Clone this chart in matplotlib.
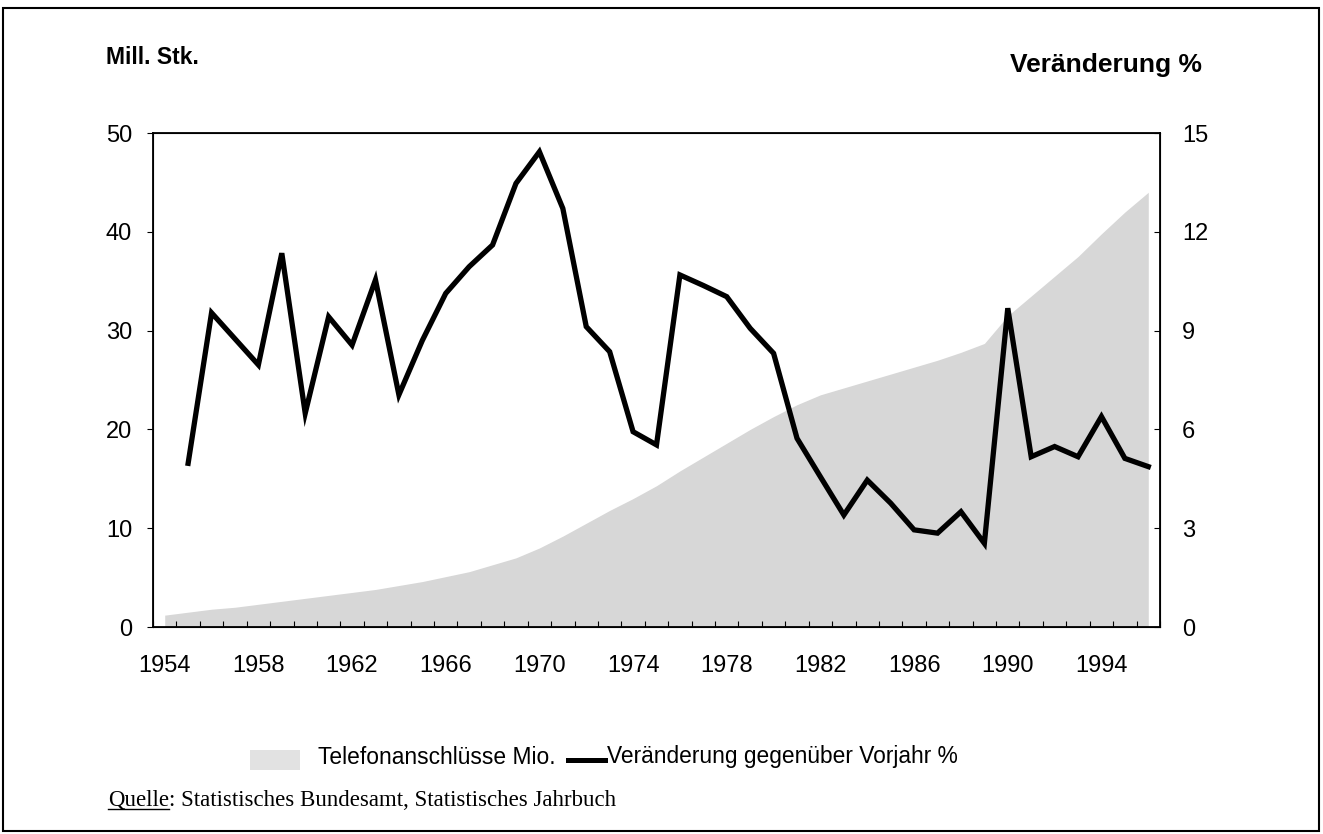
"""
Telefonanschluesse und Veraenderung gegenueber Vorjahr, 1954-1996
"""
# ###
# 1.Import packages
# ###
import matplotlib
matplotlib.use('Agg')
import matplotlib.pyplot as plt
import numpy             as np
from matplotlib.lines   import Line2D
from matplotlib.patches import Rectangle

# ###
# 2.Data
# ###
years = list(range(1954, 1997))

# Telefonanschluesse, Mio. (left axis)
anschluesse = [1.2, 1.5, 1.8, 2.0, 2.3, 2.6, 2.9, 3.2, 3.5, 3.8,
               4.2, 4.6, 5.1, 5.6, 6.3, 7.0, 8.0, 9.2, 10.5, 11.8,
               13.0, 14.3, 15.8, 17.2, 18.6, 20.0, 21.3, 22.5, 23.5, 24.2,
               24.9, 25.6, 26.3, 27.0, 27.8, 28.7, 31.5, 33.5, 35.5, 37.5,
               39.8, 42.0, 44.0]

# Veraenderung gegenueber Vorjahr in % (right axis), starts 1955
change_years = list(range(1955, 1997))
veraenderung = [4.97, 9.54, 8.75, 7.96, 11.35, 6.49, 9.42, 8.56, 10.54, 7.05,
                8.70, 10.13, 10.94, 11.60, 13.47, 14.43, 12.71, 9.12, 8.36, 5.93,
                5.53, 10.69, 10.37, 10.03, 9.07, 8.31, 5.73, 4.56, 3.40, 4.46,
                3.76, 2.95, 2.85, 3.50, 2.54, 9.68, 5.17, 5.48, 5.17, 6.39,
                5.12, 4.87]

year_labels = [1954, 1958, 1962, 1966, 1970, 1974, 1978, 1982, 1986, 1990, 1994]
left_ticks  = [0, 10, 20, 30, 40, 50]
right_ticks = [0, 3, 6, 9, 12, 15]

# ###
# 3.Const variables
# ###
FIG_W, FIG_H = 1323, 834
PLOT_DPI     = 100
FONT_SANS    = 'Liberation Sans'
FONT_SERIF   = 'Liberation Serif'
COLOR_AREA   = '#d7d7d7'
COLOR_LINE   = 'k'
TICK_SIZE    = 17
LEGEND_SIZE  = 16.4


def px(x, y):
    # pixel position -> figure fraction
    return x / FIG_W, 1 - y / FIG_H


# ###
# 4.Draw
# ###
plt.rcParams['font.family'] = [FONT_SANS, 'DejaVu Sans']
fig = plt.figure(figsize=(FIG_W / PLOT_DPI, FIG_H / PLOT_DPI), dpi=PLOT_DPI, facecolor='w')

# outer frame
fig.patches.append(Rectangle(px(3, 831), (1319 - 3) / FIG_W, (831 - 8) / FIG_H,
                             transform=fig.transFigure, fill=False, edgecolor='k', linewidth=1.5))

ax_l, ax_b = px(153, 627)
ax_r, ax_t = px(1160, 133)
ax_main = fig.add_axes([ax_l, ax_b, ax_r - ax_l, ax_t - ax_b])
ax_main.fill_between(years, anschluesse, 0, color=COLOR_AREA, linewidth=0)
ax_main.set_xlim(1953.5, 1996.5)
ax_main.set_ylim(0, 50)
ax_main.set_yticks(left_ticks)
ax_main.set_xticks(year_labels)
ax_main.set_xticks(np.arange(1953.5, 1997, 1), minor=True)
ax_main.tick_params(axis='x', which='major', length=0, pad=20, labelsize=TICK_SIZE)
ax_main.tick_params(axis='x', which='minor', direction='in', length=4, width=0.8)
ax_main.tick_params(axis='y', direction='out', length=4, width=0.8, pad=11, labelsize=TICK_SIZE)
for s in ax_main.spines.values():
    s.set_linewidth(1.3)

ax_right = ax_main.twinx()
ax_right.plot(change_years, veraenderung, color=COLOR_LINE, linewidth=3.8, solid_joinstyle='miter')
ax_right.set_ylim(0, 15)
ax_right.set_yticks(right_ticks)
ax_right.tick_params(axis='y', direction='in', length=4, width=0.8, pad=16, labelsize=TICK_SIZE)

# axis titles
fig.text(*px(106, 58), 'Mill. Stk.', fontsize=16.5, fontweight='bold', ha='left', va='center')
fig.text(*px(1202, 65), 'Veränderung %', fontsize=19, fontweight='bold', ha='right', va='center')

# legend (drawn by hand to keep the original spacing)
fig.patches.append(Rectangle(px(250, 770), 50 / FIG_W, 20 / FIG_H, transform=fig.transFigure,
                             facecolor='#e2e2e2', edgecolor='none'))
fig.text(*px(318, 757), 'Telefonanschlüsse Mio.', fontsize=LEGEND_SIZE, ha='left', va='center')
fig.add_artist(Line2D([px(568, 0)[0], px(605, 0)[0]], [px(0, 760)[1]] * 2,
                      transform=fig.transFigure, color=COLOR_LINE, linewidth=3.6))
fig.text(*px(607, 757), 'Veränderung gegenüber Vorjahr %', fontsize=LEGEND_SIZE, ha='left', va='center')

# source
t_q = fig.text(*px(108, 800), 'Quelle', fontsize=16.5, family=FONT_SERIF, ha='left', va='center')
t_r = fig.text(*px(108, 800), '', fontsize=16.5, family=FONT_SERIF, ha='left', va='center')
fig.canvas.draw()
bb = t_q.get_window_extent().transformed(fig.transFigure.inverted())
t_r.set_position((bb.x1, px(0, 800)[1]))
t_r.set_text(': Statistisches Bundesamt, Statistisches Jahrbuch')
fig.add_artist(Line2D([bb.x0, bb.x1], [bb.y0 + 0.002, bb.y0 + 0.002],
                      transform=fig.transFigure, color='k', linewidth=1))

plt.savefig('out.png', dpi=PLOT_DPI)
plt.close(fig)
